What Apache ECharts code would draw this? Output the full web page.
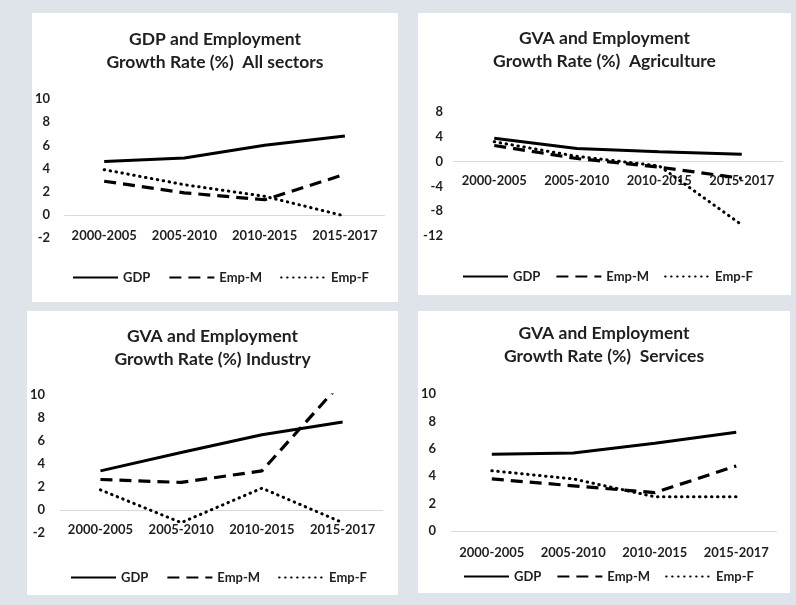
<!DOCTYPE html>
<html>
<head>
<meta charset="utf-8">
<script src="https://cdn.jsdelivr.net/npm/echarts@6/dist/echarts.min.js"></script>
<style>
  html, body { margin: 0; padding: 0; }
  body { width: 796px; height: 605px; background: #dfe3ea; position: relative; overflow: hidden; }
  .panel { position: absolute; background: #ffffff; }
</style>
</head>
<body>
<div id="p1" class="panel" style="left:32px;top:13px;width:366px;height:289px"></div>
<div id="p2" class="panel" style="left:418px;top:13px;width:373px;height:282px"></div>
<div id="p3" class="panel" style="left:27px;top:311px;width:371px;height:284px"></div>
<div id="p4" class="panel" style="left:418px;top:311px;width:372px;height:282px"></div>
<script>
// Periods on the horizontal axis
const periods = ['2000-2005', '2005-2010', '2010-2015', '2015-2017'];
const seriesNames = ['GDP', 'Emp-M', 'Emp-F'];

// All sectors: GDP and employment growth (%)
const allGdp  = [4.6, 4.9, 6.0, 6.8];
const allEmpM = [2.9, 1.9, 1.3, 3.5];
const allEmpF = [3.9, 2.6, 1.6, -0.1];

// Agriculture: GVA and employment growth (%)
const agriGva  = [3.75, 2.1, 1.6, 1.2];
const agriEmpM = [2.6, 0.5, -0.9, -2.7];
const agriEmpF = [3.2, 0.85, -0.7, -10.2];

// Industry: GVA and employment growth (%)
const indGva  = [3.4, 5.0, 6.55, 7.65];
const indEmpM = [2.65, 2.4, 3.4, 11.2];
const indEmpF = [1.75, -1.1, 1.9, -1.1];

// Services: GVA and employment growth (%)
const svcGva  = [5.6, 5.7, 6.4, 7.2];
const svcEmpM = [3.8, 3.3, 2.8, 4.75];
const svcEmpF = [4.4, 3.8, 2.5, 2.5];

// Value-axis ranges [min, max, step]
const allRange  = [-2, 10, 2];
const agriRange = [-12, 8, 4];
const indRange  = [-2, 10, 2];
const svcRange  = [0, 10, 2];

const FONT = 'Lato, "Open Sans", "Liberation Sans", sans-serif';
const INK = '#1f1f1f';
const ZERO = '#d9d9d9';

const lineStyles = [
  { color: '#000', width: 3, type: 'solid', cap: 'butt' },
  { color: '#000', width: 3.2, type: [12, 7], cap: 'butt' },
  { color: '#000', width: 3, type: [0.5, 5.5], cap: 'round' }
];

function buildOption(cfg) {
  const [ymin, ymax, step] = cfg.range;
  const series = cfg.values.map((vals, i) => {
    const s = {
      name: seriesNames[i],
      type: 'line',
      data: vals,
      symbol: 'none',
      showSymbol: false,
      smooth: false,
      clip: true,
      lineStyle: lineStyles[i],
      itemStyle: { color: '#000' },
      emphasis: { disabled: true },
      z: 3 + (2 - i)
    };
    if (i === 0) {
      // horizontal reference line at zero
      s.markLine = {
        silent: true,
        symbol: 'none',
        label: { show: false },
        lineStyle: { color: ZERO, width: 1, type: 'solid' },
        emphasis: { disabled: true },
        data: [{ yAxis: 0 }],
        z: 1
      };
    }
    return s;
  });
  return {
    animation: false,
    textStyle: { fontFamily: FONT },
    title: {
      text: cfg.title,
      left: 'center',
      top: cfg.titleTop,
      padding: 0,
      textStyle: {
        fontFamily: FONT, fontWeight: 'bold', fontSize: 17.5,
        color: INK, lineHeight: 23
      }
    },
    legend: {
      data: seriesNames,
      left: cfg.legendLeft,
      top: cfg.legendTop,
      padding: 0,
      itemWidth: 45,
      itemHeight: 12,
      itemGap: cfg.legendGap,
      itemStyle: { color: 'rgba(0,0,0,0)', borderWidth: 0, borderColor: 'rgba(0,0,0,0)' },
      textStyle: { fontFamily: FONT, fontWeight: 'bold', fontSize: 13, color: INK },
      selectedMode: false
    },
    grid: cfg.grid,
    xAxis: {
      type: 'category',
      data: periods,
      boundaryGap: true,
      axisLine: { show: false, onZero: false },
      axisTick: { show: false },
      axisLabel: {
        margin: cfg.xLabelMargin,
        fontFamily: FONT, fontWeight: 'bold', fontSize: 13, color: INK,
        interval: 0
      },
      splitLine: { show: false }
    },
    yAxis: {
      type: 'value',
      min: ymin, max: ymax, interval: step,
      axisLine: { show: false },
      axisTick: { show: false },
      splitLine: { show: false },
      axisLabel: {
        margin: cfg.yLabelMargin,
        fontFamily: FONT, fontWeight: 'bold', fontSize: 13, color: INK
      }
    },
    series: series
  };
}

const panels = [
  {
    id: 'p1',
    title: 'GDP and Employment\nGrowth Rate (%)  All sectors',
    values: [allGdp, allEmpM, allEmpF],
    range: allRange,
    grid: { left: 30, width: 323, top: 86, height: 139 },
    xLabelMargin: -9, yLabelMargin: 14,
    titleTop: 15, legendLeft: 40, legendTop: 258, legendGap: 18
  },
  {
    id: 'p2',
    title: 'GVA and Employment\nGrowth Rate (%)  Agriculture',
    values: [agriGva, agriEmpM, agriEmpF],
    range: agriRange,
    grid: { left: 35, width: 330, top: 99, height: 124 },
    xLabelMargin: -62, yLabelMargin: 10,
    titleTop: 14, legendLeft: 44, legendTop: 257, legendGap: 15
  },
  {
    id: 'p3',
    title: 'GVA and Employment\nGrowth Rate (%) Industry',
    values: [indGva, indEmpM, indEmpF],
    range: indRange,
    grid: { left: 31, width: 325, top: 84, height: 138 },
    xLabelMargin: -10, yLabelMargin: 15,
    titleTop: 14, legendLeft: 43, legendTop: 260, legendGap: 18
  },
  {
    id: 'p4',
    title: 'GVA and Employment\nGrowth Rate (%)  Services',
    values: [svcGva, svcEmpM, svcEmpF],
    range: svcRange,
    grid: { left: 30, width: 329, top: 83, height: 137 },
    xLabelMargin: 15, yLabelMargin: 15,
    titleTop: 11, legendLeft: 45, legendTop: 259, legendGap: 15
  }
];

panels.forEach(cfg => {
  const chart = echarts.init(document.getElementById(cfg.id), null, { renderer: 'canvas' });
  chart.setOption(buildOption(cfg));
});
</script>
</body>
</html>
